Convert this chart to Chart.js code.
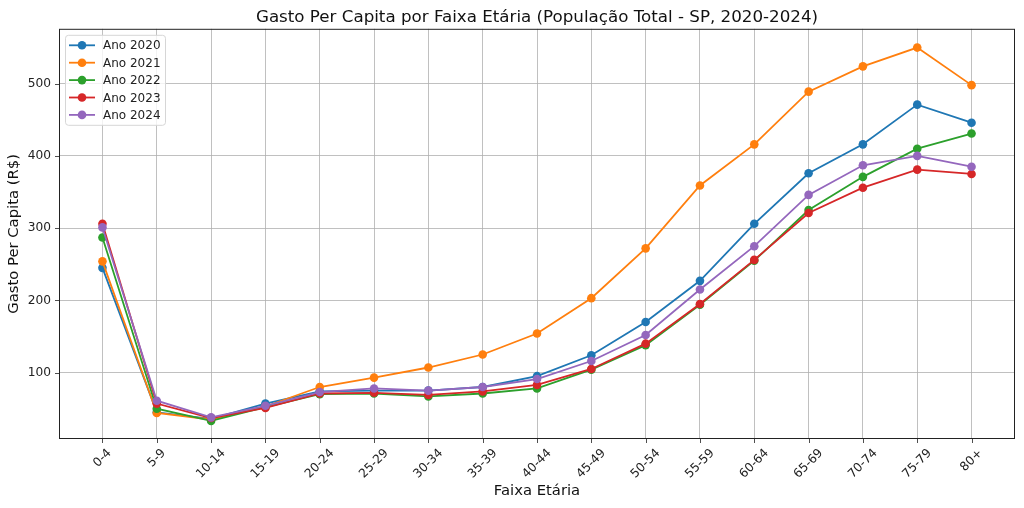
<!DOCTYPE html>
<html>
<head>
<meta charset="utf-8">
<script src="https://cdn.jsdelivr.net/npm/chart.js@4.4.1/dist/chart.umd.min.js"></script>
<style>
  html, body { margin: 0; padding: 0; background: #fff; }
  #wrap { width: 1024px; height: 508px; }
</style>
</head>
<body>
<div id="wrap"><canvas id="grafico"></canvas></div>
<script>
// dados
const faixas = ['0-4', '5-9', '10-14', '15-19', '20-24', '25-29', '30-34', '35-39', '40-44',
  '45-49', '50-54', '55-59', '60-64', '65-69', '70-74', '75-79', '80+'];
const anos = ['Ano 2020', 'Ano 2021', 'Ano 2022', 'Ano 2023', 'Ano 2024'];
const gasto2020 = [245, 45, 36, 57, 74, 75, 75, 80, 95, 124, 170, 227, 306, 376, 416, 471, 446];
const gasto2021 = [254, 44, 35, 53, 80, 93, 107, 125, 154, 203, 272, 359, 416, 489, 524, 550, 498];
const gasto2022 = [287, 50, 33, 52, 70, 71, 67, 71, 78, 104, 138, 194, 255, 325, 371, 410, 431];
const gasto2023 = [306, 57, 37, 51, 71, 72, 69, 74, 83, 105, 140, 195, 256, 321, 356, 381, 375];
const gasto2024 = [301, 61, 38, 54, 73, 78, 75, 80, 91, 116, 152, 215, 275, 346, 387, 400, 385];
const yTicks = [100, 200, 300, 400, 500];
const titulo = 'Gasto Per Capita por Faixa Etária (População Total - SP, 2020-2024)';

const series = [gasto2020, gasto2021, gasto2022, gasto2023, gasto2024];
const cores = ['#1f77b4', '#ff7f0e', '#2ca02c', '#d62728', '#9467bd'];
const fonte = '"DejaVu Sans", sans-serif';

const datasets = series.map((vals, i) => ({
  label: anos[i],
  data: vals.map((v, k) => ({ x: k, y: v })),
  borderColor: cores[i],
  backgroundColor: cores[i],
  pointBackgroundColor: cores[i],
  pointBorderColor: cores[i],
  borderWidth: 1.8,
  pointRadius: 4.3,
  pointBorderWidth: 0,
  pointHoverRadius: 4.3,
  tension: 0,
  order: series.length - i
}));

// moldura, titulo, rotulos do eixo x e legenda no estilo matplotlib
const extras = {
  id: 'extras',
  afterDraw(chart) {
    const c = chart.ctx;
    const a = chart.chartArea;
    const xs = chart.scales.x;
    c.save();
    c.strokeStyle = '#222';
    c.lineWidth = 1;
    c.strokeRect(a.left + 0.5, a.top + 0.5, a.right - a.left - 1, a.bottom - a.top - 1);

    // titulo centrado na area do grafico
    c.fillStyle = '#111';
    c.font = '16.7px ' + fonte;
    c.textAlign = 'center';
    c.textBaseline = 'alphabetic';
    c.fillText(titulo, (a.left + a.right) / 2, 22);

    // rotulos rotacionados, centrados no tick
    c.font = '12.2px ' + fonte;
    c.fillStyle = '#222';
    c.textAlign = 'center';
    c.textBaseline = 'middle';
    faixas.forEach((lab, k) => {
      const x = xs.getPixelForValue(k);
      const w = c.measureText(lab).width;
      const h = 12;
      const lado = (w + h) * Math.SQRT1_2;
      c.save();
      c.translate(x, a.bottom + 8 + lado / 2);
      c.rotate(-Math.PI / 4);
      c.fillText(lab, 0, 0);
      c.restore();
    });

    // tick marks pretos
    c.strokeStyle = '#222';
    c.lineWidth = 0.8;
    c.beginPath();
    faixas.forEach((lab, k) => {
      const x = Math.round(xs.getPixelForValue(k)) + 0.5;
      c.moveTo(x, a.bottom);
      c.lineTo(x, a.bottom + 4);
    });
    yTicks.forEach(v => {
      const y = Math.round(chart.scales.y.getPixelForValue(v)) + 0.5;
      c.moveTo(a.left, y);
      c.lineTo(a.left - 4, y);
    });
    c.stroke();

    // legenda
    const lx = a.left + 6, ly = a.top + 6;
    const bw = 100, bh = 90;
    c.fillStyle = 'rgba(255,255,255,0.8)';
    c.strokeStyle = '#d6d6d6';
    c.lineWidth = 1;
    c.beginPath();
    c.roundRect(lx + 0.5, ly + 0.5, bw, bh, 3);
    c.fill();
    c.stroke();
    c.textAlign = 'left';
    c.font = '12px ' + fonte;
    anos.forEach((nome, i) => {
      const yy = ly + 10.5 + i * 17.4;
      c.strokeStyle = cores[i];
      c.lineWidth = 1.8;
      c.beginPath();
      c.moveTo(lx + 4, yy);
      c.lineTo(lx + 30, yy);
      c.stroke();
      c.fillStyle = cores[i];
      c.beginPath();
      c.arc(lx + 17, yy, 4.3, 0, Math.PI * 2);
      c.fill();
      c.fillStyle = '#222';
      c.fillText(nome, lx + 38, yy + 1);
    });
    c.restore();
  }
};

new Chart(document.getElementById('grafico'), {
  type: 'line',
  data: { datasets: datasets },
  options: {
    responsive: true,
    maintainAspectRatio: false,
    animation: false,
    events: [],
    layout: { padding: { left: 0, right: 9, top: 0, bottom: 0 } },
    plugins: {
      legend: { display: false },
      tooltip: { enabled: false },
      title: {
        display: true,
        text: titulo,
        color: 'rgba(0,0,0,0)',
        font: { family: fonte, size: 16.5, weight: 'normal' },
        padding: { top: 6, bottom: 3 }
      }
    },
    scales: {
      x: {
        type: 'linear',
        min: -0.8,
        max: 16.8,
        afterBuildTicks: s => { s.ticks = faixas.map((f, k) => ({ value: k })); },
        afterFit: s => { s.height = 69; },
        grid: { color: '#b0b0b0', lineWidth: 0.8, drawTicks: false },
        border: { display: false },
        ticks: { color: 'rgba(0,0,0,0)', maxRotation: 45, minRotation: 45, callback: (v) => faixas[v] },
        title: {
          display: true,
          text: 'Faixa Etária',
          color: '#111',
          font: { family: fonte, size: 14.8 },
          padding: { top: 0, bottom: 7.5 }
        }
      },
      y: {
        min: 8,
        max: 576,
        afterBuildTicks: s => { s.ticks = yTicks.map(v => ({ value: v })); },
        afterFit: s => { s.width = 59; },
        grid: { color: '#b0b0b0', lineWidth: 0.8, drawTicks: false },
        border: { display: false },
        ticks: { color: '#222', padding: 8, font: { family: fonte, size: 12.2 } },
        title: {
          display: true,
          text: 'Gasto Per Capita (R$)',
          color: '#111',
          font: { family: fonte, size: 14.8 },
          padding: { top: 5, bottom: 0 }
        }
      }
    }
  },
  plugins: [extras]
});
</script>
</body>
</html>
